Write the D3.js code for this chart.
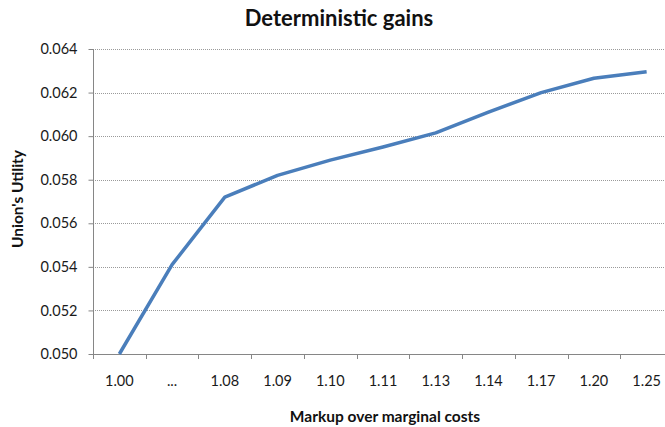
<!DOCTYPE html>
<html>
<head>
<meta charset="utf-8">
<script src="https://cdn.jsdelivr.net/npm/d3@7"></script>
<style>
  html, body { margin: 0; padding: 0; background: #fff; }
  svg { display: block; font-family: Lato, "Open Sans", sans-serif; }
</style>
</head>
<body>
<svg id="chart" width="665" height="427"></svg>
<script>
const categories = ["1.00", "...", "1.08", "1.09", "1.10", "1.11", "1.13", "1.14", "1.17", "1.20", "1.25"];
const utility = [0.0500, 0.0541, 0.0572, 0.0582, 0.0589, 0.0595, 0.06015, 0.0611, 0.0620, 0.06266, 0.06296];
const yTicks = [0.050, 0.052, 0.054, 0.056, 0.058, 0.060, 0.062, 0.064];

const svg = d3.select("#chart");
const pLeft = 93, pRight = 673, pTop = 49, pBottom = 354;

const x = d3.scaleBand().domain(categories).range([pLeft, pRight]).paddingInner(0).paddingOuter(0);
const y = d3.scaleLinear().domain([0.050, 0.064]).range([pBottom, pTop]);

// gridlines
svg.append("g").selectAll("line").data(yTicks.filter(d => d > 0.050)).join("line")
  .attr("x1", pLeft).attr("x2", pRight)
  .attr("y1", d => Math.round(y(d)) + 0.5).attr("y2", d => Math.round(y(d)) + 0.5)
  .attr("stroke", "#9a9a9a").attr("stroke-width", 1).attr("stroke-dasharray", "1,1");

// y axis
const yAxis = d3.axisLeft(y).tickValues(yTicks).tickFormat(d3.format(".3f")).tickSize(5).tickPadding(11);
const gy = svg.append("g").attr("transform", `translate(${pLeft + 0.5},0)`).call(yAxis);
gy.select(".domain").attr("stroke", "#868686").attr("d", `M0,${pTop}V${pBottom}`);
gy.selectAll(".tick line").attr("stroke", "#868686");
gy.selectAll(".tick text").attr("fill", "#1a1a1a").style("font-size", "14.5px").style("font-family", "Lato, sans-serif");

// x axis labels
const xAxis = d3.axisBottom(x).tickSize(0).tickPadding(21);
const gx = svg.append("g").attr("transform", `translate(0,${pBottom + 0.5})`).call(xAxis);
gx.select(".domain").attr("stroke", "#868686").attr("d", `M${pLeft},0H${pRight}`);
gx.selectAll(".tick text").attr("fill", "#1a1a1a").style("font-size", "14.5px").style("font-family", "Lato, sans-serif");

// x tick marks at category boundaries
svg.append("g").selectAll("line").data(categories).join("line")
  .attr("x1", d => Math.round(x(d)) + 0.5).attr("x2", d => Math.round(x(d)) + 0.5)
  .attr("y1", pBottom).attr("y2", pBottom + 5)
  .attr("stroke", "#868686");

// line
const line = d3.line()
  .x((d, i) => x(categories[i]) + x.bandwidth() / 2)
  .y(d => y(d));
svg.append("path").datum(utility)
  .attr("d", line)
  .attr("fill", "none")
  .attr("stroke", "#4a7ebb")
  .attr("stroke-width", 3.5)
  .attr("stroke-linejoin", "round");

// title
svg.append("text").attr("x", 339).attr("y", 26).attr("text-anchor", "middle")
  .style("font-size", "22px").style("font-weight", "bold").attr("fill", "#111")
  .text("Deterministic gains");

// axis titles
svg.append("text").attr("x", 385).attr("y", 422).attr("text-anchor", "middle")
  .style("font-size", "15.5px").style("font-weight", "bold").attr("fill", "#111")
  .text("Markup over marginal costs");

svg.append("text").attr("transform", "translate(23,199) rotate(-90)").attr("text-anchor", "middle")
  .style("font-size", "15.5px").style("font-weight", "bold").attr("fill", "#111")
  .text("Union's Utility");
</script>
</body>
</html>
